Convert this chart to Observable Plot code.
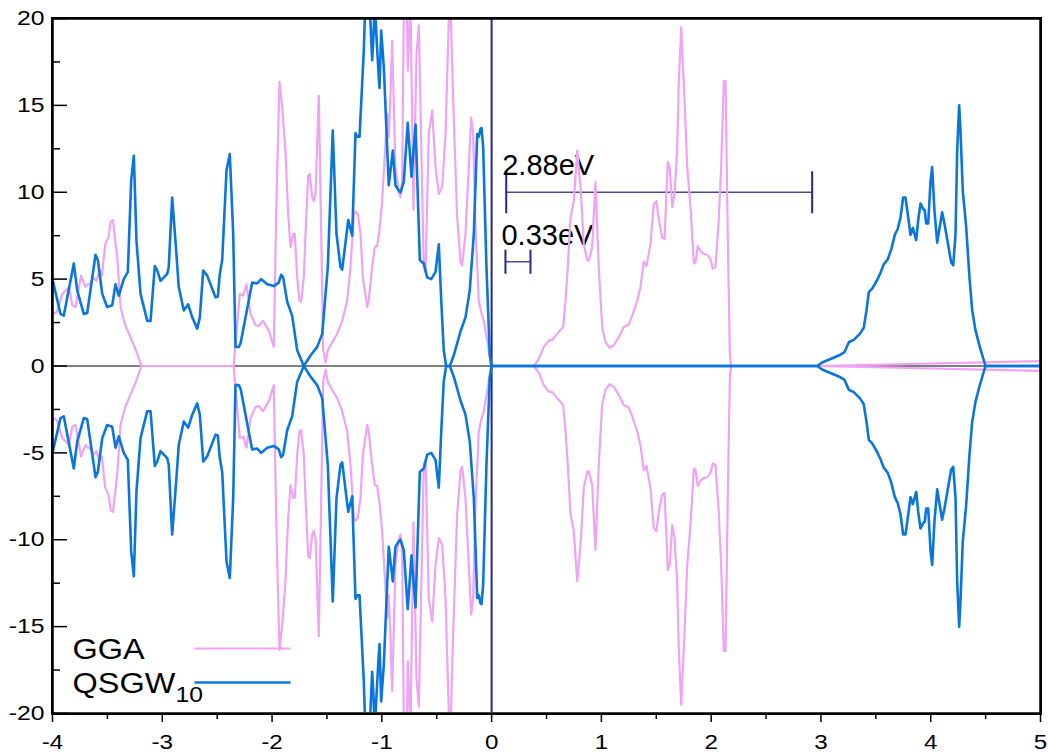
<!DOCTYPE html>
<html>
<head>
<meta charset="utf-8">
<script src="https://cdn.jsdelivr.net/npm/d3@7"></script>
<script src="https://cdn.jsdelivr.net/npm/@observablehq/plot@0.6"></script>
<style>
  html, body { margin: 0; padding: 0; background: #ffffff; }
  #chart { position: relative; width: 1048px; height: 755px; }
  #chart svg { display: block; }
  #frame-overlay { position: absolute; box-sizing: border-box; border: 2.5px solid #000; pointer-events: none; }
</style>
</head>
<body>
<div id="chart"></div>
<script>
// ---------- Data (energy in eV, DOS in states/eV; spin up positive, spin down negative) ----------
const ggaE = [-4.00,-3.96,-3.91,-3.85,-3.82,-3.79,-3.74,-3.70,-3.68,-3.66,-3.63,-3.60,-3.57,-3.55,-3.52,-3.49,-3.47,-3.45,-3.41,-3.38,-3.34,-3.29,-3.24,-3.19,
  -2.35,-2.294,-2.263,-2.233,-2.196,-2.151,-2.121,-2.081,-2.060,-2.030,-1.984,-1.960,-1.932,-1.908,-1.878,-1.853,-1.832,-1.807,-1.793,-1.771,-1.750,-1.735,-1.711,-1.695,-1.671,-1.656,-1.634,-1.620,-1.604,-1.574,-1.534,-1.513,-1.492,-1.452,-1.407,-1.361,-1.316,-1.285,-1.255,-1.240,-1.219,-1.194,-1.173,-1.133,-1.119,-1.088,-1.064,-1.042,-1.019,-0.997,-0.976,-0.951,-0.937,-0.921,-0.906,-0.876,-0.846,-0.830,-0.815,-0.800,-0.784,-0.763,-0.739,-0.712,-0.684,-0.663,-0.618,-0.602,-0.572,-0.541,-0.511,-0.481,-0.450,-0.420,-0.390,-0.375,-0.350,-0.314,-0.283,-0.268,-0.238,-0.208,-0.186,-0.168,-0.147,-0.117,-0.095,-0.071,-0.040,-0.004,
  0.384,0.430,0.475,0.521,0.552,0.597,0.652,0.673,0.694,0.719,0.749,0.780,0.810,0.840,0.871,0.885,0.916,0.946,0.976,1.007,1.037,1.076,1.113,1.158,1.204,1.250,1.281,1.326,1.356,1.386,1.411,1.447,1.477,1.502,1.523,1.554,1.575,1.605,1.623,1.645,1.666,1.690,1.705,1.727,1.751,1.782,1.812,1.842,1.857,1.878,1.903,1.933,1.964,1.994,2.015,2.039,2.069,2.091,2.115,2.131,2.151,2.170,2.182,2.966,5.0];
const ggaUp = [3.0,3.1,4.15,4.55,3.5,3.4,5.2,4.55,4.7,4.7,5.1,4.9,5.5,5.2,7.0,7.4,8.3,8.4,6.25,3.4,2.4,1.65,0.9,0,
  0,4.15,4.05,4.7,3.0,2.35,2.3,2.6,2.35,2.05,1.1,9.5,16.35,14.9,12.4,8.75,6.85,7.6,7.6,5.1,3.75,3.7,5.1,7.6,10.95,11.05,9.7,9.5,9.9,15.55,0.9,0.2,0.9,1.37,1.85,2.6,3.75,5.7,8.75,8.9,8.75,7.6,5.1,3.4,3.8,5.7,6.85,6.9,8.0,9.5,11.8,14.5,13.15,15.65,18.7,11.45,10.0,9.7,10.6,20.5,25,17,21,9,18,19.6,5.7,5.4,13.4,14.7,11.45,9.9,10.3,13.35,19.9,21,15.3,8.55,6.0,5.8,7.6,11.45,14.3,13.35,8.0,3.75,3.1,2.6,1.45,0,
  0,0.4,1.1,1.47,1.5,1.85,2.25,3.75,5.7,8.55,9.5,12.4,10.3,7.0,6.1,6.05,6.85,10.6,5.7,2.25,1.37,1.05,1.2,1.65,2.25,2.4,2.9,3.75,4.55,6.0,5.75,7.0,9.3,9.5,8.4,7.4,7.3,11.75,11.4,9.15,9.9,12.4,16.25,19.5,16.25,11.45,9.15,5.9,5.95,6.9,6.6,6.45,6.4,6.15,5.6,5.7,8.4,11.45,16.4,16.4,7.6,0.7,0,0,0.28];
const ggaDown = [-3.0,-3.1,-4.15,-4.55,-3.5,-3.4,-5.2,-4.55,-4.7,-4.7,-5.1,-4.9,-5.5,-5.2,-7.0,-7.4,-8.3,-8.4,-6.25,-3.4,-2.4,-1.65,-0.9,0,
  0,-4.15,-4.05,-4.7,-3.0,-2.35,-2.3,-2.6,-2.35,-2.05,-1.1,-9.5,-16.35,-14.9,-12.4,-8.75,-6.85,-7.6,-7.6,-5.1,-3.75,-3.7,-5.1,-7.6,-10.95,-11.05,-9.7,-9.5,-9.9,-15.55,-0.9,-0.2,-0.9,-1.37,-1.85,-2.6,-3.75,-5.7,-8.75,-8.9,-8.75,-7.6,-5.1,-3.4,-3.8,-5.7,-6.85,-6.9,-8.0,-9.5,-11.8,-14.5,-13.15,-15.65,-18.7,-11.45,-10.0,-9.7,-10.6,-20.5,-25,-17,-21,-9,-18,-19.6,-5.7,-5.4,-13.4,-14.7,-11.45,-9.9,-10.3,-13.35,-19.9,-21,-15.3,-8.55,-6.0,-5.8,-7.6,-11.45,-14.3,-13.35,-8.0,-3.75,-3.1,-2.6,-1.45,0,
  0,-0.4,-1.1,-1.47,-1.5,-1.85,-2.25,-3.75,-5.7,-8.55,-9.5,-12.4,-10.3,-7.0,-6.1,-6.05,-6.85,-10.6,-5.7,-2.25,-1.37,-1.05,-1.2,-1.65,-2.25,-2.4,-2.9,-3.75,-4.55,-6.0,-5.75,-7.0,-9.3,-9.5,-8.4,-7.4,-7.3,-11.75,-11.4,-9.15,-9.9,-12.4,-16.25,-19.5,-16.25,-11.45,-9.15,-5.9,-5.95,-6.9,-6.6,-6.45,-6.4,-6.15,-5.6,-5.7,-8.4,-11.45,-16.4,-16.4,-7.6,-0.7,0,0,-0.28];

const qsgwE = [-3.997,-3.927,-3.897,-3.806,-3.775,-3.715,-3.684,-3.608,-3.587,-3.547,-3.502,-3.456,-3.426,-3.396,-3.351,-3.314,-3.283,-3.259,-3.235,-3.198,-3.137,-3.107,-3.068,-3.046,-3.016,-2.955,-2.941,-2.910,-2.880,-2.850,-2.804,-2.764,-2.727,-2.682,-2.658,-2.627,-2.591,-2.515,-2.494,-2.476,-2.454,-2.415,-2.385,-2.354,-2.333,-2.303,-2.287,-2.181,-2.135,-2.099,-2.044,-1.984,-1.939,-1.917,-1.899,-1.862,-1.817,-1.771,-1.711,-1.650,-1.589,-1.543,-1.492,-1.447,-1.413,-1.377,-1.361,-1.306,-1.270,-1.240,-1.224,-1.203,-1.164,-1.140,-1.112,-1.088,-1.076,-1.064,-1.049,-1.028,-1.021,-1.006,-0.982,-0.937,-0.900,-0.876,-0.846,-0.830,-0.800,-0.764,-0.730,-0.693,-0.654,-0.618,-0.587,-0.550,-0.511,-0.481,-0.459,-0.436,-0.414,-0.381,-0.345,-0.283,-0.238,-0.199,-0.162,-0.131,-0.117,-0.101,-0.092,-0.077,-0.047,-0.017,-0.001,
  2.966,3.011,3.087,3.178,3.215,3.254,3.299,3.354,3.390,3.415,3.436,3.467,3.512,3.542,3.572,3.609,3.640,3.673,3.700,3.725,3.749,3.770,3.791,3.816,3.837,3.868,3.886,3.907,3.931,3.946,3.959,3.977,3.998,4.013,4.034,4.059,4.104,4.125,4.165,4.186,4.205,4.226,4.241,4.259,4.271,4.292,4.323,4.353,4.378,4.408,4.447,4.499,5.0];
const qsgwUp = [4.9,3.0,2.9,5.9,4.35,3.0,3.05,6.4,6.1,4.15,3.4,3.5,4.7,4.05,5.0,5.4,10.7,12.1,7.2,4.15,2.6,2.6,5.75,5.5,4.9,5.3,5.7,9.7,7.2,4.55,3.2,3.55,2.8,2.15,2.8,5.5,5.2,3.95,4.0,5.3,6.1,11.25,12.2,7.6,1.1,1.1,1.3,4.8,4.75,5.0,4.7,4.6,4.8,5.25,5.1,3.7,2.9,0.9,0,0.6,1.1,1.85,5.7,13.55,7.6,5.7,5.55,8.4,7.5,13.4,13.2,13.2,18.2,23,21,17.6,19,21,19,16.6,16.0,19.3,17.2,10.4,12.4,10.4,10.1,10.0,10.6,14.0,10.9,13.9,6.1,5.9,5.1,5.0,5.4,7.0,3.8,0.9,0,0,0.6,2.0,2.8,4.35,7.6,13.35,13.2,13.65,13.7,12.6,5.7,0.7,0,
  0,0.2,0.4,0.65,0.8,1.37,1.5,1.85,2.2,3.2,4.25,4.45,4.95,5.35,5.85,6.15,6.7,7.55,7.9,8.55,9.7,9.7,8.75,7.55,7.95,7.25,8.4,9.35,9.05,8.95,8.2,8.2,10.6,11.45,8.95,7.1,8.85,8.2,6.75,5.97,5.8,7.6,12.4,15.0,13.55,10.1,8.0,5.1,3.2,2.05,1.1,0,0];
const qsgwDown = [-4.9,-3.0,-2.9,-5.9,-4.35,-3.0,-3.05,-6.4,-6.1,-4.15,-3.4,-3.5,-4.7,-4.05,-5.0,-5.4,-10.7,-12.1,-7.2,-4.15,-2.6,-2.6,-5.75,-5.5,-4.9,-5.3,-5.7,-9.7,-7.2,-4.55,-3.2,-3.55,-2.8,-2.15,-2.8,-5.5,-5.2,-3.95,-4.0,-5.3,-6.1,-11.25,-12.2,-7.6,-1.1,-1.1,-1.3,-4.8,-4.75,-5.0,-4.7,-4.6,-4.8,-5.25,-5.1,-3.7,-2.9,-0.9,0,-0.6,-1.1,-1.85,-5.7,-13.55,-7.6,-5.7,-5.55,-8.4,-7.5,-13.4,-13.2,-13.2,-18.2,-23,-21,-17.6,-19,-21,-19,-16.6,-16.0,-19.3,-17.2,-10.4,-12.4,-10.4,-10.1,-10.0,-10.6,-14.0,-10.9,-13.9,-6.1,-5.9,-5.1,-5.0,-5.4,-7.0,-3.8,-0.9,0,0,-0.6,-2.0,-2.8,-4.35,-7.6,-13.35,-13.2,-13.65,-13.7,-12.6,-5.7,-0.7,0,
  0,-0.2,-0.4,-0.65,-0.8,-1.37,-1.5,-1.85,-2.2,-3.2,-4.25,-4.45,-4.95,-5.35,-5.85,-6.15,-6.7,-7.55,-7.9,-8.55,-9.7,-9.7,-8.75,-7.55,-7.95,-7.25,-8.4,-9.35,-9.05,-8.95,-8.2,-8.2,-10.6,-11.45,-8.95,-7.1,-8.85,-8.2,-6.75,-5.97,-5.8,-7.6,-12.4,-15.0,-13.55,-10.1,-8.0,-5.1,-3.2,-2.05,-1.1,0,0];

// Gap annotations
const gapLabels = ["2.88eV", "0.33eV"];
const gapStart = [0.133, 0.126];
const gapEnd = [2.92, 0.354];
const gapLevel = [10, 6];

// Legend
const seriesNames = ["GGA", "QSGW"];
const seriesSub = ["", "10"];

// Axes
const xDomain = [-4, 5];
const yDomain = [-20, 20];
const majorX = [-4, -3, -2, -1, 0, 1, 2, 3, 4, 5];
const minorX = [-3.5, -2.5, -1.5, -0.5, 0.5, 1.5, 2.5, 3.5, 4.5];
const majorY = [-20, -15, -10, -5, 0, 5, 10, 15, 20];
const minorY = [-17.5, -12.5, -7.5, -2.5, 2.5, 7.5, 12.5, 17.5];

// ---------- Tables ----------
const ggaUpRows = ggaE.map((e, i) => ({e, v: ggaUp[i]}));
const ggaDownRows = ggaE.map((e, i) => ({e, v: ggaDown[i]}));
const qsgwUpRows = qsgwE.map((e, i) => ({e, v: qsgwUp[i]}));
const qsgwDownRows = qsgwE.map((e, i) => ({e, v: qsgwDown[i]}));
const gaps = gapLabels.map((label, i) => ({label, x1: gapStart[i], x2: gapEnd[i], y: gapLevel[i]}));

const VIOLET = "#f0a2f7";
const BLUE = "#0a76dc";
const NAVY = "#26268c";
const FONT = "'Liberation Sans', Arial, Helvetica, sans-serif";
const ySpan = yDomain[1] - yDomain[0];

// custom line symbols for bar caps and legend swatches
const vLine = {draw(ctx, size) { const h = Math.sqrt(size / Math.PI); ctx.moveTo(0, -h); ctx.lineTo(0, h); }};
const hLine = {draw(ctx, size) { const h = Math.sqrt(size / Math.PI); ctx.moveTo(-h, 0); ctx.lineTo(h, 0); }};

const chart = Plot.plot({
  width: 1048,
  height: 755,
  marginLeft: 52,
  marginRight: 8,
  marginTop: 18,
  marginBottom: 42,
  style: {fontFamily: FONT, fontSize: "21px", background: "#ffffff", color: "#000"},
  x: {domain: xDomain},
  y: {domain: yDomain},
  marks: [
    // zero reference lines
    Plot.ruleY([0], {stroke: "#000", strokeWidth: 1}),
    Plot.ruleX([0], {stroke: NAVY, strokeWidth: 2}),
    // gap bars
    Plot.link(gaps, {x1: "x1", x2: "x2", y1: "y", y2: "y", stroke: "#4a4a9c", strokeWidth: 1.5}),
    Plot.dot(gaps.slice(0, 1), {x: "x1", y: "y", symbol: vLine, r: 21, stroke: NAVY, fill: "none", strokeWidth: 2}),
    Plot.dot(gaps.slice(0, 1), {x: "x2", y: "y", symbol: vLine, r: 21, stroke: NAVY, fill: "none", strokeWidth: 2}),
    Plot.dot(gaps.slice(1), {x: "x1", y: "y", symbol: vLine, r: 12, stroke: NAVY, fill: "none", strokeWidth: 2}),
    Plot.dot(gaps.slice(1), {x: "x2", y: "y", symbol: vLine, r: 12, stroke: NAVY, fill: "none", strokeWidth: 2}),
    Plot.text(gaps, {x: "x1", y: "y", text: "label", textAnchor: "start", lineAnchor: "bottom", dx: -4, dy: -17, fontSize: 29, fill: "#000"}),
    // DOS curves
    Plot.line(ggaUpRows, {x: "e", y: "v", stroke: VIOLET, strokeWidth: 2.2}),
    Plot.line(ggaDownRows, {x: "e", y: "v", stroke: VIOLET, strokeWidth: 2.2}),
    Plot.line(qsgwUpRows, {x: "e", y: "v", stroke: BLUE, strokeWidth: 2.6}),
    Plot.line(qsgwDownRows, {x: "e", y: "v", stroke: BLUE, strokeWidth: 2.6}),
    // white masks above and below the frame: curves that run past ±20 are cut at the frame
    Plot.rect([0], {x1: xDomain[0], x2: xDomain[1], y1: yDomain[1], y2: yDomain[1] + ySpan, fill: "#ffffff", inset: -1}),
    Plot.rect([0], {x1: xDomain[0], x2: xDomain[1], y1: yDomain[0], y2: yDomain[0] - ySpan, fill: "#ffffff", inset: -1}),
    // legend
    Plot.text([seriesNames[0]], {frameAnchor: "bottom-left", dx: 20, dy: -55, text: d => d, textAnchor: "start", lineAnchor: "bottom", fontSize: 29, fill: "#000"}),
    Plot.text([seriesNames[1]], {frameAnchor: "bottom-left", dx: 20, dy: -21, text: d => d, textAnchor: "start", lineAnchor: "bottom", fontSize: 29, fill: "#000"}),
    Plot.text([seriesSub[1]], {frameAnchor: "bottom-left", dx: 123, dy: -12, text: d => d, textAnchor: "start", lineAnchor: "bottom", fontSize: 22, fill: "#000"}),
    Plot.dot([seriesNames[0]], {frameAnchor: "bottom-left", dx: 190, dy: -65, symbol: hLine, r: 48, stroke: VIOLET, fill: "none", strokeWidth: 2.2}),
    Plot.dot([seriesNames[1]], {frameAnchor: "bottom-left", dx: 190, dy: -31, symbol: hLine, r: 48, stroke: BLUE, fill: "none", strokeWidth: 2.6}),
    // axes
    Plot.axisX(majorX, {anchor: "bottom", tickSize: 0, tickPadding: 21, fontSize: 21, tickFormat: d => String(d), label: null}),
    Plot.axisX(majorX, {anchor: "bottom", tickSize: 9, fill: "none", stroke: "#000", strokeWidth: 1.5, label: null}),
    Plot.axisX(minorX, {anchor: "bottom", tickSize: 6, fill: "none", stroke: "#000", strokeWidth: 1.5, label: null}),
    Plot.axisY(majorY, {anchor: "left", tickSize: 0, tickPadding: 8, fontSize: 21, tickFormat: d => String(d), label: null}),
    Plot.axisY(majorY, {anchor: "left", tickSize: -15, fill: "none", stroke: "#000", strokeWidth: 1.5, label: null}),
    Plot.axisY(minorY, {anchor: "left", tickSize: -8, fill: "none", stroke: "#000", strokeWidth: 1.5, label: null}),
    // plot frame
    Plot.frame({stroke: "#000", strokeWidth: 2.5})
  ]
});

// widen the Helvetica-like lettering horizontally, as in the original figure
function stretchText(nodes, s) {
  nodes.forEach(t => {
    let tr = t.getAttribute("transform");
    if (!tr) {
      const x = t.getAttribute("x") || 0, y = t.getAttribute("y") || 0;
      t.removeAttribute("x"); t.removeAttribute("y");
      tr = `translate(${x},${y})`;
    }
    t.setAttribute("transform", `${tr} scale(${s},1)`);
  });
}
stretchText(chart.querySelectorAll('g[aria-label="x-axis tick label"] text'), 1.15);
stretchText(chart.querySelectorAll('g[aria-label="y-axis tick label"] text'), 1.18);
const legendWords = new Set([...seriesNames, ...seriesSub.filter(Boolean)]);
stretchText([...chart.querySelectorAll('g[aria-label="text"] text')].filter(t => legendWords.has(t.textContent)), 1.12);

const host = document.getElementById("chart");
host.appendChild(chart);

// frame border drawn over the plot area, aligned with the scales' ranges
{
  const [xa, xb] = chart.scale("x").range;
  const [ya, yb] = chart.scale("y").range;
  const left = Math.min(xa, xb), top = Math.min(ya, yb);
  const w = Math.abs(xb - xa), h = Math.abs(yb - ya);
  const box = document.createElement("div");
  box.id = "frame-overlay";
  box.style.left = (left - 0.75) + "px";
  box.style.top = (top - 0.75) + "px";
  box.style.width = (w + 2.5) + "px";
  box.style.height = (h + 2.5) + "px";
  host.appendChild(box);
}
</script>
</body>
</html>
